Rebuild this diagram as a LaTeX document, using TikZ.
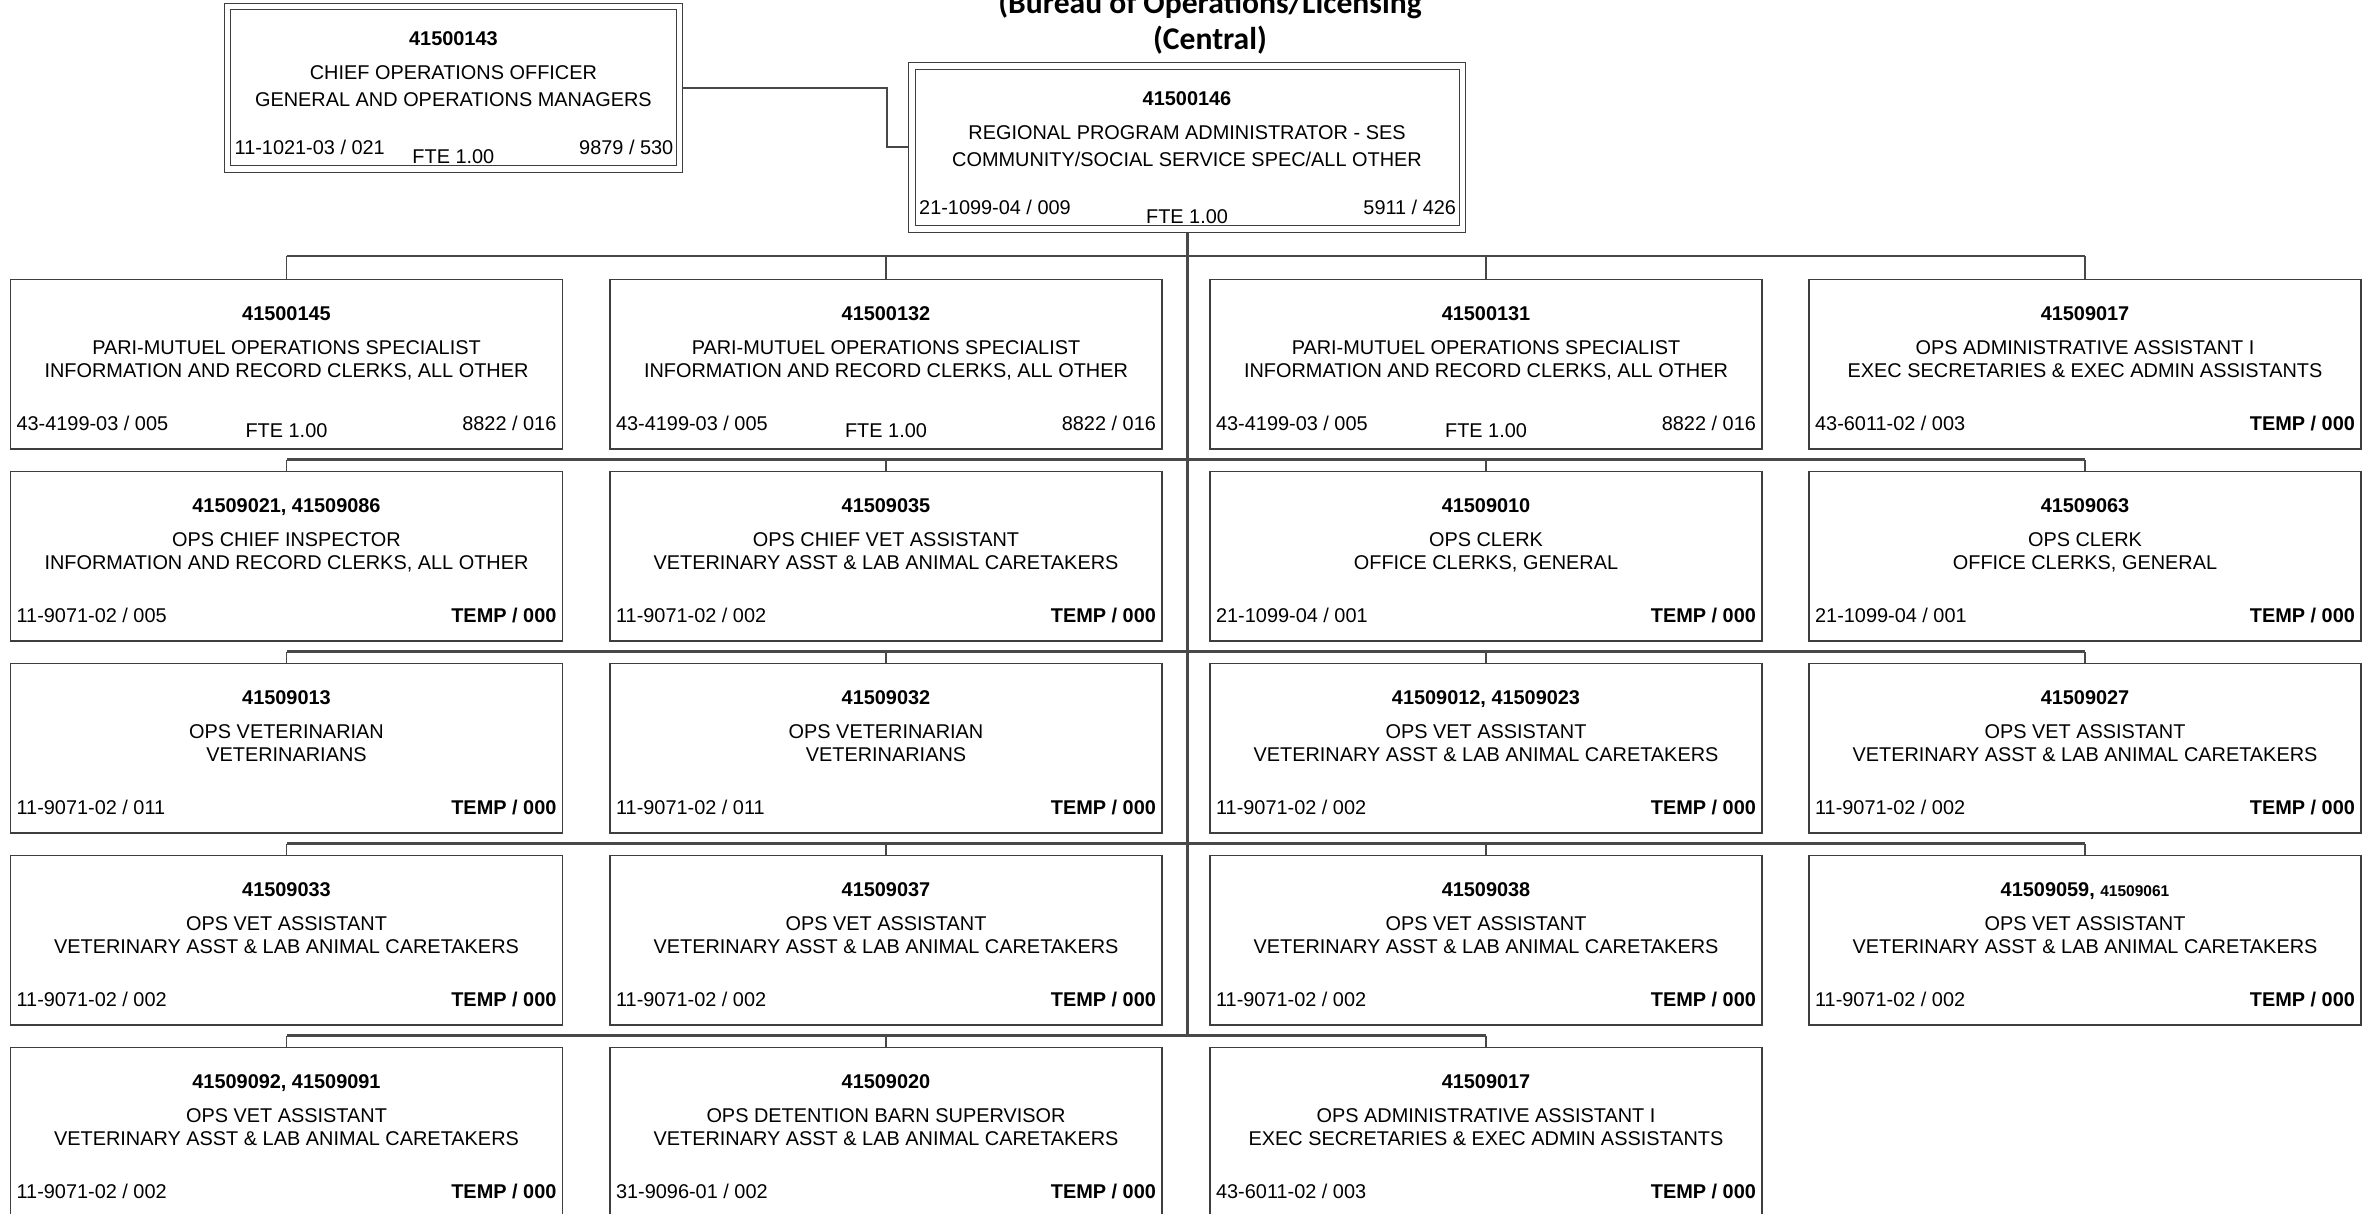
\documentclass[tikz,border=0pt]{standalone}
\usepackage{fontspec}
\setmainfont{Liberation Sans}
\newfontfamily\titlefont{Carlito}
\usetikzlibrary{calc,backgrounds}

\definecolor{boxline}{RGB}{62,62,62}
\definecolor{wireline}{RGB}{72,72,72}

\tikzset{
  posn/.style={draw=boxline, line width=1.2pt, rectangle, inner sep=0pt,
    minimum width=552pt, minimum height=169.5pt},
  headbox/.style={draw=boxline, double=white, double distance=5.4pt,
    line width=1pt, rectangle, inner sep=0pt},
  txt/.style={inner sep=0pt, text=black, font=\fontsize{19.9}{24}\selectfont},
  boldtxt/.style={inner sep=0pt, text=black, font=\fontsize{19.9}{24}\selectfont\bfseries},
  titletxt/.style={inner sep=0pt, anchor=base, text=black,
    font=\titlefont\fontsize{31.6}{38}\selectfont\bfseries},
  bus/.style={draw=wireline, line width=2.4pt},
  drop/.style={draw=wireline, line width=1.5pt},
  trunk/.style={draw=wireline, line width=3pt},
  link/.style={draw=wireline, line width=2pt},
}

% One position box: name, centre x, top y, number, title, class, left code, right code
\newcommand\posbox[8]{%
  \node[posn] (#1) at (#2, #3+84.75) {};
  \node[boldtxt, anchor=base] (#1n) at ($(#1.north)+(0,41.7)$) {#4};
  \node[txt, anchor=base] (#1a) at ($(#1.north)+(0,75.7)$) {#5};
  \node[txt, anchor=base] (#1b) at ($(#1.north)+(0,99)$) {#6};
  \node[txt, anchor=base west] (#1l) at ($(#1.south west)+(6.5,-19)$) {#7};
  \node[txt, anchor=base east] (#1r) at ($(#1.south east)+(-6.5,-19)$) {#8};
}
\newcommand\ftenote[1]{%
  \node[txt, anchor=base] (#1f) at ($(#1.south)+(0,-11.7)$) {FTE 1.00};
}
\newcommand\tempcode{\textbf{TEMP / 000}}

\begin{document}
\begin{tikzpicture}[x=1pt, y=-1pt]
\useasboundingbox (0,0) rectangle (2368,1214);

% heading
\node[titletxt] (title1) at (1210,14) {(Bureau of Operations/Licensing};
\node[titletxt] (title2) at (1210,50) {(Central)};

% top positions
\node[headbox, minimum width=452.2pt, minimum height=162.7pt] (b143) at (453.4,87.65) {};
\node[boldtxt, anchor=base] (b143n) at ($(b143.north)+(0,39.7)$) {41500143};
\node[txt, anchor=base] (b143a) at ($(b143.north)+(0,73.7)$) {CHIEF OPERATIONS OFFICER};
\node[txt, anchor=base] (b143b) at ($(b143.north)+(0,101)$) {GENERAL AND OPERATIONS MANAGERS};
\node[txt, anchor=base west] (b143l) at ($(b143.south west)+(7.7,-15)$) {11-1021-03 / 021};
\node[txt, anchor=base east] (b143r) at ($(b143.south east)+(-6.5,-15)$) {9879 / 530};
\node[txt, anchor=base] (b143f) at ($(b143.south)+(0,-5.7)$) {FTE 1.00};

\node[headbox, minimum width=550.4pt, minimum height=162.8pt] (b146) at (1187,147.5) {};
\node[boldtxt, anchor=base] (b146n) at ($(b146.north)+(0,39.7)$) {41500146};
\node[txt, anchor=base] (b146a) at ($(b146.north)+(0,73.7)$) {REGIONAL PROGRAM ADMINISTRATOR - SES};
\node[txt, anchor=base] (b146b) at ($(b146.north)+(0,101)$) {COMMUNITY/SOCIAL SERVICE SPEC/ALL OTHER};
\node[txt, anchor=base west] (b146l) at ($(b146.south west)+(7.7,-15)$) {21-1099-04 / 009};
\node[txt, anchor=base east] (b146r) at ($(b146.south east)+(-6.5,-15)$) {5911 / 426};
\node[txt, anchor=base] (b146f) at ($(b146.south)+(0,-5.7)$) {FTE 1.00};

% row 1
\posbox{r1c1}{286.5}{279.5}{41500145}{PARI-MUTUEL OPERATIONS SPECIALIST}{INFORMATION AND RECORD CLERKS, ALL OTHER}{43-4199-03 / 005}{8822 / 016}
\ftenote{r1c1}
\posbox{r1c2}{886}{279.5}{41500132}{PARI-MUTUEL OPERATIONS SPECIALIST}{INFORMATION AND RECORD CLERKS, ALL OTHER}{43-4199-03 / 005}{8822 / 016}
\ftenote{r1c2}
\posbox{r1c3}{1486}{279.5}{41500131}{PARI-MUTUEL OPERATIONS SPECIALIST}{INFORMATION AND RECORD CLERKS, ALL OTHER}{43-4199-03 / 005}{8822 / 016}
\ftenote{r1c3}
\posbox{r1c4}{2085}{279.5}{41509017}{OPS ADMINISTRATIVE ASSISTANT I}{EXEC SECRETARIES \& EXEC ADMIN ASSISTANTS}{43-6011-02 / 003}{\tempcode}

% row 2
\posbox{r2c1}{286.5}{471.5}{41509021, 41509086}{OPS CHIEF INSPECTOR}{INFORMATION AND RECORD CLERKS, ALL OTHER}{11-9071-02 / 005}{\tempcode}
\posbox{r2c2}{886}{471.5}{41509035}{OPS CHIEF VET ASSISTANT}{VETERINARY ASST \& LAB ANIMAL CARETAKERS}{11-9071-02 / 002}{\tempcode}
\posbox{r2c3}{1486}{471.5}{41509010}{OPS CLERK}{OFFICE CLERKS, GENERAL}{21-1099-04 / 001}{\tempcode}
\posbox{r2c4}{2085}{471.5}{41509063}{OPS CLERK}{OFFICE CLERKS, GENERAL}{21-1099-04 / 001}{\tempcode}

% row 3
\posbox{r3c1}{286.5}{663.5}{41509013}{OPS VETERINARIAN}{VETERINARIANS}{11-9071-02 / 011}{\tempcode}
\posbox{r3c2}{886}{663.5}{41509032}{OPS VETERINARIAN}{VETERINARIANS}{11-9071-02 / 011}{\tempcode}
\posbox{r3c3}{1486}{663.5}{41509012, 41509023}{OPS VET ASSISTANT}{VETERINARY ASST \& LAB ANIMAL CARETAKERS}{11-9071-02 / 002}{\tempcode}
\posbox{r3c4}{2085}{663.5}{41509027}{OPS VET ASSISTANT}{VETERINARY ASST \& LAB ANIMAL CARETAKERS}{11-9071-02 / 002}{\tempcode}

% row 4
\posbox{r4c1}{286.5}{855.5}{41509033}{OPS VET ASSISTANT}{VETERINARY ASST \& LAB ANIMAL CARETAKERS}{11-9071-02 / 002}{\tempcode}
\posbox{r4c2}{886}{855.5}{41509037}{OPS VET ASSISTANT}{VETERINARY ASST \& LAB ANIMAL CARETAKERS}{11-9071-02 / 002}{\tempcode}
\posbox{r4c3}{1486}{855.5}{41509038}{OPS VET ASSISTANT}{VETERINARY ASST \& LAB ANIMAL CARETAKERS}{11-9071-02 / 002}{\tempcode}
\posbox{r4c4}{2085}{855.5}{41509059, {\fontsize{15.5}{18}\selectfont 41509061}}{OPS VET ASSISTANT}{VETERINARY ASST \& LAB ANIMAL CARETAKERS}{11-9071-02 / 002}{\tempcode}

% row 5
\posbox{r5c1}{286.5}{1047.5}{41509092, 41509091}{OPS VET ASSISTANT}{VETERINARY ASST \& LAB ANIMAL CARETAKERS}{11-9071-02 / 002}{\tempcode}
\posbox{r5c2}{886}{1047.5}{41509020}{OPS DETENTION BARN SUPERVISOR}{VETERINARY ASST \& LAB ANIMAL CARETAKERS}{31-9096-01 / 002}{\tempcode}
\posbox{r5c3}{1486}{1047.5}{41509017}{OPS ADMINISTRATIVE ASSISTANT I}{EXEC SECRETARIES \& EXEC ADMIN ASSISTANTS}{43-6011-02 / 003}{\tempcode}

% reporting lines
\coordinate (elbow) at (886.5,0);
\coordinate (bus1) at (1187,256);
\coordinate (bus2) at (1187,459.5);
\coordinate (bus3) at (1187,651.5);
\coordinate (bus4) at (1187,843.5);
\coordinate (bus5) at (1187,1035.5);

\begin{scope}[on background layer]
  \draw[link] (b143.east) -- (b143.east -| elbow) |- (b146.west);
  \draw[trunk] (b146.south) -- (b146.south |- bus5);
  \foreach \r in {1,2,3,4} {
    \draw[bus] (r\r c1.north |- bus\r) -- (r\r c4.north |- bus\r);
    \foreach \c in {1,2,3,4}
      \draw[drop] (r\r c\c.north |- bus\r) -- (r\r c\c.north);
  }
  \draw[bus] (r5c1.north |- bus5) -- (r5c3.north |- bus5);
  \foreach \c in {1,2,3}
    \draw[drop] (r5c\c.north |- bus5) -- (r5c\c.north);
\end{scope}
\end{tikzpicture}
\end{document}
